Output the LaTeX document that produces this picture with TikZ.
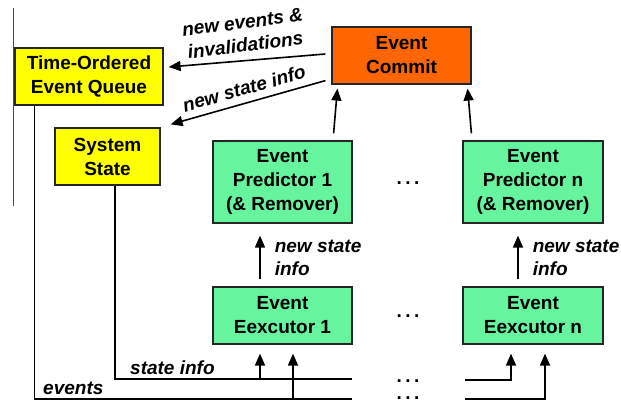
\documentclass[tikz,border=0pt]{standalone}
\usepackage{fontspec}
\setmainfont{Liberation Sans}
\usetikzlibrary{arrows.meta,positioning}
\definecolor{commitorange}{RGB}{255,102,0}
\definecolor{workergreen}{RGB}{102,244,158}
\definecolor{queueyellow}{RGB}{255,255,0}

\begin{document}
\begin{tikzpicture}[x=1pt,y=-1pt,
    box/.style={rectangle, draw=black!85, line width=1.2pt, align=center,
      font=\fontsize{19}{24}\selectfont\bfseries, inner sep=0pt},
    ybox/.style={box, fill=queueyellow},
    obox/.style={box, fill=commitorange},
    gbox/.style={box, fill=workergreen},
    arr/.style={line width=1.6pt, -{Triangle[length=12pt,width=10pt]}},
    wire/.style={line width=1.6pt},
    lbl/.style={font=\fontsize{19}{23}\selectfont\bfseries\itshape, align=left, inner sep=1pt},
    dots/.style={font=\fontsize{19}{23}\selectfont\bfseries, inner sep=0pt, anchor=base}]
    \useasboundingbox (0,0) rectangle (621,403);
    \draw[black!70, line width=0.8pt] (13,8) -- (13,206);

    \node (queue) [ybox, minimum width=148pt, minimum height=57pt] at (89,76.5) {Time-Ordered\\Event Queue};
    \node (state) [ybox, minimum width=105pt, minimum height=57pt] at (107.5,156.5) {System\\State};
    \node (commit) [obox, minimum width=139pt, minimum height=57pt] at (401.5,55.5) {Event\\Commit};
    \node (pred1) [gbox, minimum width=139pt, minimum height=82pt] at (282.5,182) {Event\\Predictor 1\\(\& Remover)};
    \node (predn) [gbox, minimum width=140pt, minimum height=82pt] at (533,182) {Event\\Predictor n\\(\& Remover)};
    \node (exec1) [gbox, minimum width=139pt, minimum height=57pt] at (282.5,315.5) {Event\\Eexcutor 1};
    \node (execn) [gbox, minimum width=140pt, minimum height=57pt] at (533,315.5) {Event\\Eexcutor n};

    \node (dotsp) [dots] at (408,185) {.\hspace{3.5pt}.\hspace{3.5pt}.};
    \node (dotse) [dots] at (408,317) {.\hspace{3.5pt}.\hspace{3.5pt}.};
    \node (dotss) [dots] at (408,382) {.\hspace{3.5pt}.\hspace{3.5pt}.};
    \node (dotsv) [dots] at (408,399) {.\hspace{3.5pt}.\hspace{3.5pt}.};

    % commit feeds back to queue and state
    \draw[arr] ([xshift=-6pt,yshift=1.5pt]commit.west) -- node[lbl, sloped, above=7pt, rotate=2.5, align=center] {new events \&\\invalidations} ([xshift=5pt,yshift=9.5pt]queue.east);
    \draw[arr] ([xshift=-6pt,yshift=4pt]commit.south west) -- node[lbl, sloped, above=6pt] {new state info} ([xshift=10pt,yshift=3pt]state.north east);

    % predictors to commit
    \draw[arr] ([xshift=-19pt,yshift=7pt]pred1.north east) -- ([xshift=6pt,yshift=-4pt]commit.south west);
    \draw[arr] ([xshift=9pt,yshift=7pt]predn.north west) -- ([xshift=-4pt,yshift=-4pt]commit.south east);

    % executors to predictors
    \draw[arr] ([xshift=-22.5pt,yshift=7pt]exec1.north) -- node[lbl, right=13pt] {new state\\info} ([xshift=-22.5pt,yshift=-12pt]pred1.south);
    \draw[arr] ([xshift=-15pt,yshift=7pt]execn.north) -- node[lbl, right=13pt] {new state\\info} ([xshift=-15pt,yshift=-12pt]predn.south);

    % events and state info wires
    \coordinate (ev1) at (352,399);
    \coordinate (st1) at (352,379);
    \coordinate (evn) at (465,399);
    \coordinate (stn) at (465,380);
    \coordinate (e1s) at ([xshift=-22.5pt]exec1.south);
    \coordinate (e1v) at ([xshift=10.5pt]exec1.south);
    \coordinate (ens) at ([xshift=-22pt]execn.south);
    \coordinate (env) at ([xshift=12pt]execn.south);

    \draw[wire] ([xshift=20pt]queue.south west) |- (ev1);
    \draw[wire] ([xshift=7.5pt]state.south) |- (st1);
    \draw[arr] (e1s |- st1) -- ([yshift=-9pt]e1s);
    \draw[arr] (e1v |- ev1) -- ([yshift=-9pt]e1v);
    \draw[arr] (stn) -| ([yshift=-9pt]ens);
    \draw[arr] (evn) -| ([yshift=-9pt]env);

    \node (evlbl) [lbl, anchor=base west] at (42,394) {events};
    \node (stlbl) [lbl, anchor=base west] at (129,374) {state info};
\end{tikzpicture}
\end{document}
